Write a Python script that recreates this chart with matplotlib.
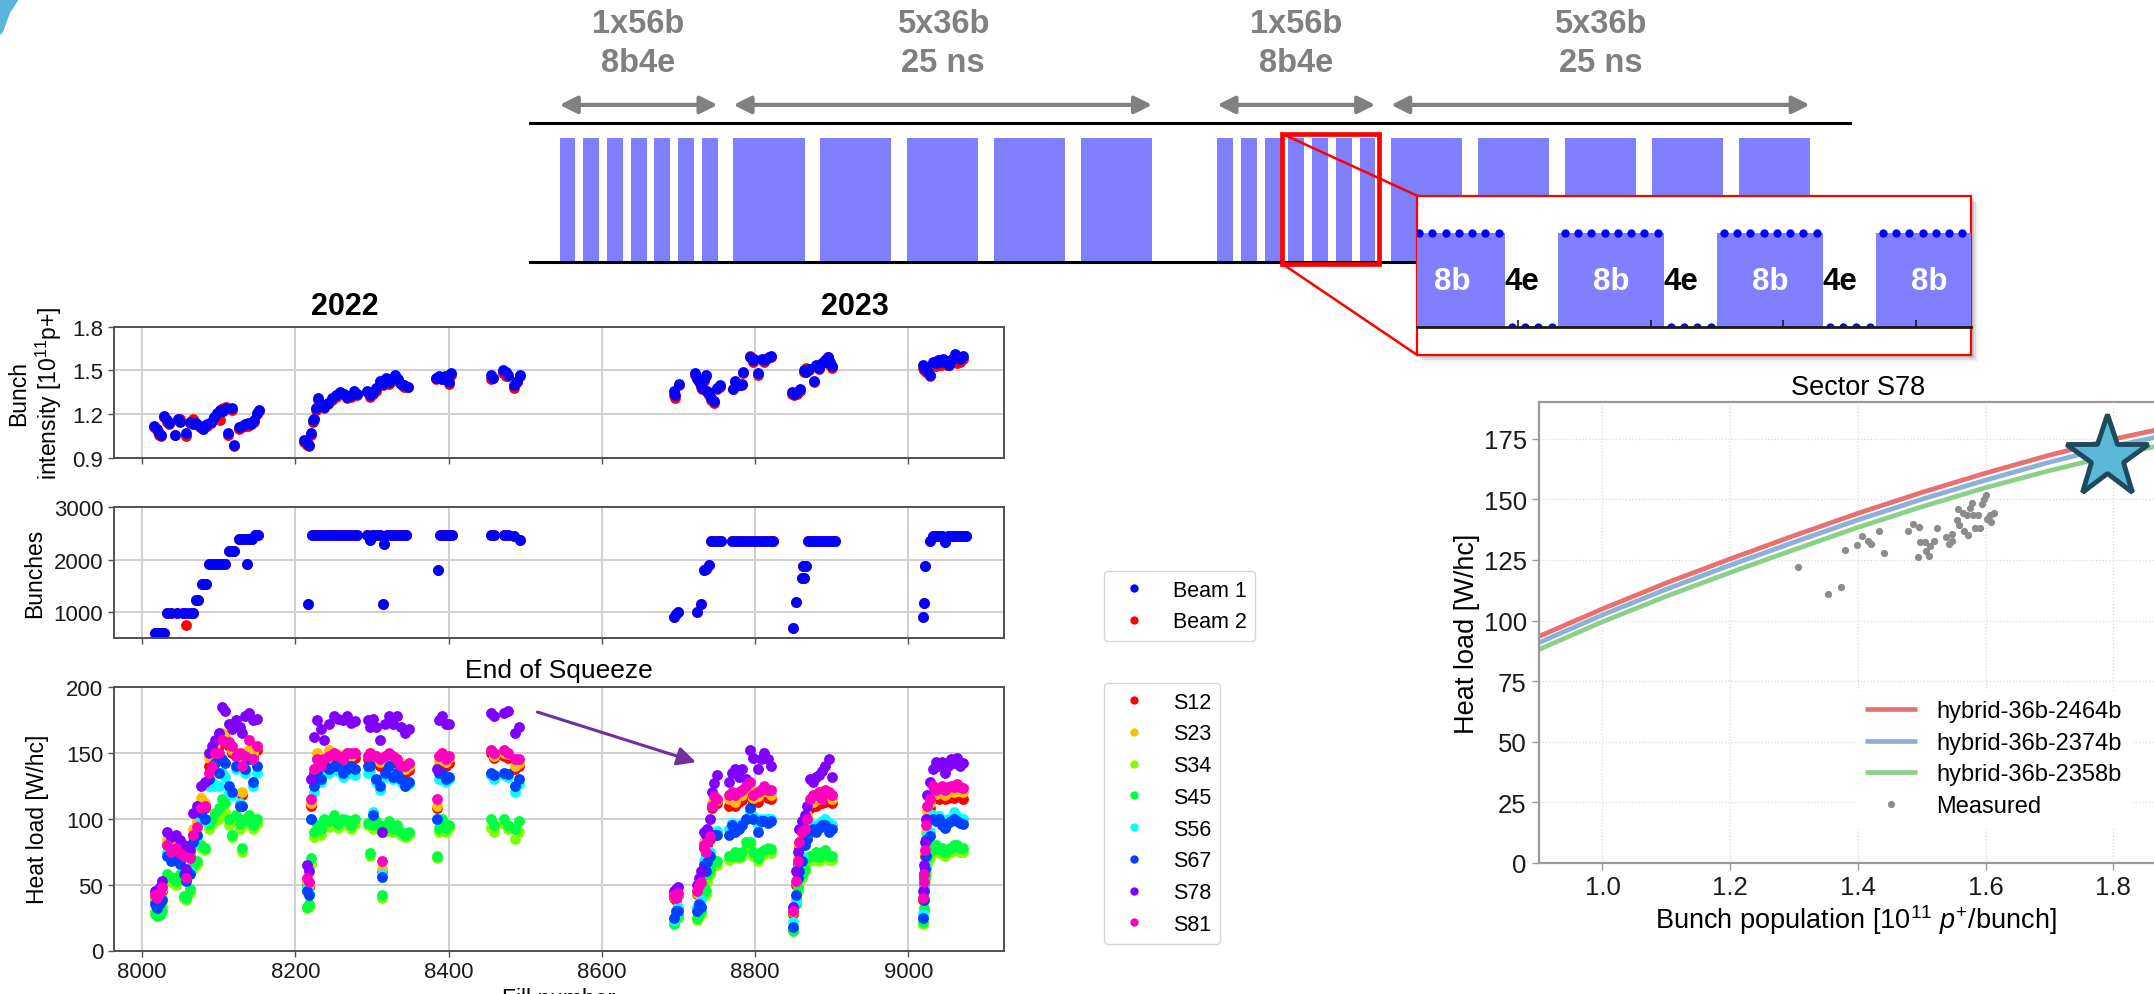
import matplotlib
matplotlib.use("Agg")
import matplotlib.pyplot as plt
from matplotlib.patches import Rectangle, Polygon, ConnectionPatch
from matplotlib.lines import Line2D

plt.rcParams['font.family'] = ['Liberation Sans', 'DejaVu Sans']
plt.rcParams['mathtext.fontset'] = 'custom'
plt.rcParams['mathtext.rm'] = 'Liberation Sans'
plt.rcParams['mathtext.it'] = 'Liberation Sans:italic'
plt.rcParams['mathtext.bf'] = 'Liberation Sans:bold'

# ---------------------------------------------------------------- filling scheme
# train start slot and length (25 ns slots), two 8b4e + 5x36b groups
train_start = [15, 27, 39, 51, 63, 75, 87, 103, 147, 191, 235, 279,
               348, 360, 372, 384, 396, 408, 420, 436, 480, 524, 568, 612]
train_len = [8, 8, 8, 8, 8, 8, 8, 36, 36, 36, 36, 36,
             8, 8, 8, 8, 8, 8, 8, 36, 36, 36, 36, 36]
span_labels = ['1x56b\n8b4e', '5x36b\n25 ns', '1x56b\n8b4e', '5x36b\n25 ns']
zoom_slots = (381, 430)

# magnified detail: 8b blocks, filled and empty slots
detail_blocks = [0, 12, 24, 36]
detail_full = [0, 1, 2, 3, 4, 5, 6, 7, 12, 13, 14, 15, 16, 17, 18, 19,
               24, 25, 26, 27, 28, 29, 30, 31, 36, 37, 38, 39, 40, 41, 42, 43]
detail_empty = [8, 9, 10, 11, 20, 21, 22, 23, 32, 33, 34, 35]
detail_ticks = [9, 19, 29, 39]

# ---------------------------------------------------------------- bunch intensity
fills_int = [8016, 8019, 8022, 8025, 8029, 8032, 8035, 8043, 8047, 8050,
             8057, 8062, 8066, 8070, 8075, 8080, 8085, 8090, 8094, 8098,
             8102, 8106, 8110, 8112, 8117, 8120, 8126, 8130, 8134, 8138,
             8142, 8146, 8150, 8153,
             8212, 8215, 8218, 8221, 8223, 8225, 8227, 8229, 8232, 8238,
             8243, 8248, 8253, 8258, 8263, 8268, 8273, 8277, 8281, 8294,
             8298, 8302, 8306, 8310, 8314, 8318, 8322, 8326, 8330, 8334,
             8338, 8342, 8347,
             8384, 8388, 8392, 8396, 8400, 8403,
             8455, 8458, 8471, 8475, 8478, 8486, 8490, 8493,
             8694, 8696, 8701, 8722, 8724, 8727, 8729, 8731, 8734, 8736,
             8738, 8740, 8743, 8747, 8750, 8754, 8771, 8774, 8781, 8783,
             8785, 8794, 8797, 8799, 8804, 8809, 8812, 8815, 8818, 8821,
             8848, 8851, 8855, 8859, 8864, 8867, 8871, 8877, 8879, 8884,
             8888, 8891, 8893, 8895, 8898, 8900,
             9019, 9021, 9023, 9026, 9028, 9032, 9036, 9039, 9043, 9046,
             9050, 9053, 9057, 9061, 9064, 9067, 9071]
int_b1 = [1.12, 1.10, 1.07, 1.06, 1.19, 1.16, 1.14, 1.06, 1.17, 1.15,
          1.07, 1.15, 1.13, 1.14, 1.12, 1.10, 1.13, 1.15, 1.18, 1.21,
          1.23, 1.22, 1.24, 1.07, 1.24, 0.99, 1.11, 1.12, 1.13, 1.14,
          1.13, 1.16, 1.21, 1.23,
          1.02, 1.00, 0.99, 1.07, 1.16, 1.17, 1.24, 1.31, 1.27, 1.25,
          1.28, 1.31, 1.33, 1.35, 1.34, 1.32, 1.33, 1.36, 1.34, 1.36,
          1.33, 1.35, 1.38, 1.43, 1.41, 1.45, 1.42, 1.44, 1.47, 1.44,
          1.41, 1.40, 1.39,
          1.45, 1.46, 1.44, 1.46, 1.42, 1.48,
          1.47, 1.45, 1.50, 1.49, 1.47, 1.40, 1.43, 1.47,
          1.36, 1.33, 1.41, 1.48, 1.45, 1.43, 1.40, 1.38, 1.44, 1.47,
          1.36, 1.34, 1.31, 1.29, 1.38, 1.40, 1.37, 1.43, 1.40, 1.41,
          1.49, 1.59, 1.57, 1.58, 1.48, 1.58, 1.57, 1.58, 1.59, 1.60,
          1.35, 1.34, 1.35, 1.37, 1.50, 1.49, 1.51, 1.43, 1.54, 1.52,
          1.55, 1.57, 1.56, 1.59, 1.56, 1.53,
          1.54, 1.52, 1.51, 1.49, 1.47, 1.56, 1.55, 1.57, 1.56, 1.58,
          1.55, 1.54, 1.58, 1.61, 1.59, 1.58, 1.60]
int_b2 = [1.11, 1.09, 1.06, 1.05, 1.18, 1.15, 1.13, 1.06, 1.16, 1.17,
          1.05, 1.14, 1.17, 1.13, 1.11, 1.10, 1.12, 1.14, 1.17, 1.20,
          1.16, 1.24, 1.25, 1.06, 1.23, 0.98, 1.10, 1.11, 1.12, 1.12,
          1.13, 1.15, 1.20, 1.22,
          1.01, 0.99, 0.98, 1.06, 1.15, 1.17, 1.23, 1.30, 1.26, 1.24,
          1.27, 1.30, 1.32, 1.34, 1.33, 1.31, 1.32, 1.34, 1.33, 1.35,
          1.32, 1.34, 1.36, 1.42, 1.40, 1.44, 1.41, 1.43, 1.46, 1.43,
          1.41, 1.39, 1.39,
          1.44, 1.45, 1.44, 1.45, 1.41, 1.47,
          1.44, 1.45, 1.48, 1.46, 1.46, 1.38, 1.42, 1.46,
          1.33, 1.31, 1.40, 1.47, 1.44, 1.42, 1.39, 1.37, 1.43, 1.46,
          1.35, 1.33, 1.30, 1.28, 1.37, 1.39, 1.37, 1.42, 1.40, 1.40,
          1.48, 1.60, 1.56, 1.57, 1.47, 1.57, 1.56, 1.58, 1.59, 1.59,
          1.34, 1.33, 1.34, 1.36, 1.49, 1.52, 1.50, 1.42, 1.53, 1.51,
          1.55, 1.56, 1.58, 1.59, 1.54, 1.52,
          1.52, 1.50, 1.49, 1.48, 1.46, 1.55, 1.53, 1.56, 1.54, 1.57,
          1.54, 1.54, 1.57, 1.60, 1.55, 1.56, 1.58]

# ---------------------------------------------------------------- number of bunches
fills_nb = [8017, 8020, 8023, 8026, 8029, 8033, 8038, 8045, 8053, 8058,
            8063, 8066, 8070, 8073, 8078, 8081, 8083, 8088, 8092, 8096,
            8100, 8104, 8108, 8114, 8117, 8120, 8127, 8131, 8135, 8137,
            8139, 8143, 8148, 8151,
            8217, 8222, 8226, 8231, 8236, 8241, 8246, 8251, 8256, 8261,
            8266, 8271, 8276, 8281, 8294, 8297, 8300, 8305, 8310, 8315,
            8316, 8320, 8325, 8330, 8335, 8340, 8345,
            8386, 8389, 8393, 8397, 8401, 8405,
            8455, 8459, 8472, 8477, 8486, 8493,
            8694, 8697, 8700, 8724, 8729, 8733, 8736, 8740, 8743, 8747,
            8752, 8756, 8770, 8775, 8780, 8785, 8790, 8795, 8800, 8805,
            8810, 8815, 8820, 8823,
            8850, 8854, 8861, 8863, 8864, 8867, 8869, 8873, 8877, 8881,
            8885, 8889, 8893, 8897, 8901, 8904,
            9019, 9021, 9022, 9028, 9032, 9036, 9040, 9044, 9048, 9052,
            9056, 9060, 9064, 9068, 9072, 9075]
nb_b1 = [600, 600, 600, 600, 600, 990, 990, 990, 990, 990,
         990, 990, 1222, 1222, 1540, 1540, 1540, 1920, 1920, 1920,
         1920, 1920, 1920, 2155, 2155, 2155, 2396, 2396, 2396, 1920,
         2396, 2396, 2460, 2460,
         1160, 2460, 2460, 2460, 2460, 2460, 2460, 2460, 2460, 2460,
         2460, 2460, 2460, 2460, 2460, 2370, 2460, 2460, 2460, 1160,
         2290, 2460, 2460, 2460, 2460, 2460, 2460,
         1806, 2460, 2460, 2460, 2460, 2460,
         2460, 2460, 2460, 2460, 2445, 2380,
         905, 970, 1000, 1000, 1157, 1807, 1810, 1895, 2356, 2356,
         2356, 2356, 2356, 2356, 2356, 2356, 2356, 2356, 2356, 2356,
         2356, 2356, 2356, 2356,
         697, 1189, 1643, 1870, 1643, 1870, 2344, 2344, 2344, 2344,
         2344, 2344, 2344, 2344, 2344, 2344,
         905, 1170, 1870, 2344, 2450, 2450, 2450, 2450, 2325, 2450,
         2450, 2450, 2450, 2450, 2450, 2450]
# beam 2 filled identically except for one fill
nb_b2_differs = {8058: 746}

# ---------------------------------------------------------------- heat loads per sector
fills_hl = [8017, 8020, 8023, 8026, 8033, 8038, 8044, 8050, 8055, 8058,
            8062, 8067, 8072, 8077, 8082, 8087, 8091, 8095, 8100, 8105,
            8108, 8113, 8118, 8123, 8128, 8131, 8135, 8140, 8145, 8150,
            8215, 8218, 8221, 8224, 8228, 8233, 8238, 8244, 8250, 8256,
            8262, 8268, 8273, 8278, 8295, 8298, 8301, 8306, 8310, 8313,
            8317, 8322, 8327, 8333, 8338, 8343, 8348,
            8385, 8388, 8392, 8397, 8401,
            8456, 8459, 8472, 8477, 8487, 8492,
            8694, 8697, 8700, 8724, 8727, 8729, 8733, 8736, 8738, 8741,
            8744, 8747, 8750, 8766, 8770, 8774, 8779, 8783, 8788, 8793,
            8798, 8804, 8808, 8812, 8817, 8821,
            8850, 8853, 8856, 8858, 8862, 8865, 8868, 8872, 8876, 8880,
            8884, 8888, 8892, 8896, 8900,
            9019, 9020, 9021, 9022, 9023, 9025, 9028, 9032, 9036, 9040,
            9044, 9048, 9052, 9056, 9060, 9064, 9068, 9072]
hl_S12 = [38, 36, 40, 45, 80, 76, 78, 75, 73, 56, 72, 88, 95, 112, 108, 140, 148, 150, 155, 160,
          158, 155, 150, 148, 140, 118, 148, 150, 148, 152,
          50, 48, 110, 135, 145, 138, 142, 148, 148, 146, 145, 147, 145, 146, 145, 148, 145, 145, 140, 60,
          142, 146, 144, 142, 138, 135, 137,
          108, 140, 146, 140, 142,
          150, 146, 148, 146, 138, 140,
          40, 38, 42, 43, 47, 48, 78, 73, 80, 85, 108, 112, 112, 110, 112, 110, 113, 114, 118, 120,
          113, 113, 118, 118, 116, 115,
          28, 50, 66, 78, 85, 90, 100, 108, 110, 110, 112, 112, 113, 115, 112,
          38, 50, 55, 72, 85, 100, 108, 115, 116, 115, 118, 115, 116, 118, 116, 118, 117, 115]
hl_S23 = [40, 38, 42, 47, 84, 80, 82, 78, 76, 58, 74, 92, 98, 116, 112, 146, 150, 154, 160, 165,
          162, 158, 152, 150, 142, 120, 150, 152, 150, 155,
          52, 50, 112, 138, 150, 142, 146, 152, 150, 149, 148, 150, 148, 150, 148, 150, 148, 148, 143, 62,
          146, 148, 146, 145, 142, 138, 140,
          110, 144, 150, 143, 146,
          152, 148, 150, 149, 140, 142,
          41, 40, 43, 44, 48, 50, 82, 75, 85, 88, 112, 115, 114, 115, 117, 113, 118, 118, 122, 125,
          116, 117, 120, 122, 120, 118,
          29, 52, 70, 80, 88, 95, 103, 112, 113, 115, 115, 116, 118, 118, 115,
          40, 52, 58, 74, 90, 106, 112, 120, 119, 120, 121, 118, 120, 121, 120, 121, 121, 120]
hl_S34 = [30, 28, 30, 34, 55, 52, 50, 55, 40, 38, 44, 62, 66, 78, 76, 92, 96, 98, 100, 108,
          105, 95, 86, 98, 92, 75, 96, 100, 92, 96,
          32, 33, 66, 86, 92, 88, 96, 94, 100, 93, 96, 95, 92, 96, 95, 72, 92, 95, 92, 40,
          90, 95, 90, 93, 88, 86, 88,
          70, 90, 96, 90, 93,
          93, 90, 96, 92, 85, 90,
          22, 24, 25, 23, 26, 28, 45, 42, 52, 58, 64, 65, 65, 69, 70, 72, 70, 72, 78, 79,
          72, 68, 72, 73, 75, 74,
          16, 42, 45, 52, 55, 60, 67, 69, 69, 72, 68, 72, 73, 69, 69,
          20, 30, 38, 53, 58, 66, 70, 75, 77, 74, 75, 72, 74, 75, 77, 77, 75, 75]
hl_S45 = [28, 26, 27, 30, 58, 56, 53, 58, 41, 40, 47, 65, 68, 80, 78, 96, 100, 104, 108, 115,
          112, 100, 88, 103, 96, 78, 100, 103, 95, 100,
          33, 35, 70, 90, 95, 92, 100, 98, 103, 96, 100, 99, 95, 100, 97, 74, 95, 98, 95, 42,
          93, 98, 92, 95, 90, 88, 90,
          72, 93, 100, 93, 95,
          100, 95, 100, 95, 92, 98,
          20, 25, 27, 25, 28, 30, 48, 45, 58, 62, 68, 68, 68, 72, 72, 75, 72, 75, 82, 82,
          75, 70, 75, 76, 78, 77,
          15, 35, 48, 55, 58, 62, 70, 72, 72, 75, 71, 75, 76, 72, 72,
          22, 32, 40, 56, 62, 70, 75, 78, 80, 77, 78, 75, 77, 78, 80, 80, 78, 78]
hl_S56 = [37, 33, 38, 40, 75, 70, 68, 67, 62, 54, 60, 80, 86, 100, 98, 125, 128, 125, 125, 135,
          132, 120, 118, 138, 112, 110, 135, 145, 125, 135,
          48, 44, 100, 120, 130, 128, 135, 135, 138, 136, 132, 134, 135, 133, 135, 136, 105, 128, 122, 58,
          132, 136, 130, 132, 128, 125, 126,
          100, 130, 133, 128, 130,
          133, 130, 133, 132, 120, 126,
          23, 28, 33, 33, 36, 38, 68, 62, 70, 75, 90, 90, 91, 92, 97, 93, 95, 97, 100, 105,
          102, 95, 100, 100, 100, 100,
          22, 38, 58, 65, 72, 82, 87, 94, 95, 93, 96, 98, 100, 97, 95,
          28, 40, 48, 66, 75, 88, 90, 103, 102, 102, 98, 97, 100, 100, 105, 102, 100, 100]
hl_S67 = [35, 32, 36, 38, 72, 68, 70, 66, 58, 53, 58, 82, 88, 104, 100, 130, 140, 142, 135, 145,
          142, 125, 120, 140, 110, 110, 138, 145, 128, 140,
          45, 42, 100, 125, 135, 130, 140, 138, 140, 140, 135, 138, 140, 138, 140, 140, 103, 130, 125, 56,
          135, 140, 132, 135, 130, 125, 128,
          100, 135, 135, 130, 132,
          135, 133, 135, 134, 125, 130,
          25, 30, 30, 30, 35, 33, 65, 60, 67, 72, 88, 88, 88, 88, 95, 90, 92, 95, 100, 108,
          100, 90, 98, 98, 97, 98,
          18, 42, 55, 60, 68, 80, 85, 90, 92, 90, 93, 95, 95, 90, 92,
          25, 38, 45, 62, 72, 85, 87, 100, 98, 100, 95, 93, 97, 98, 100, 98, 97, 96]
hl_S78 = [45, 44, 48, 53, 90, 86, 88, 84, 80, 62, 76, 104, 110, 125, 128, 150, 155, 160, 165, 185,
          182, 172, 168, 175, 170, 165, 178, 180, 175, 176,
          65, 60, 130, 162, 175, 168, 160, 172, 178, 176, 175, 178, 173, 174, 175, 170, 176, 170, 160, 90,
          172, 178, 172, 178, 170, 165, 168,
          138, 175, 178, 172, 172,
          180, 178, 180, 182, 165, 170,
          45, 47, 48, 50, 55, 60, 90, 88, 92, 100, 120, 127, 133, 128, 135, 138, 132, 138, 130, 152,
          146, 138, 145, 150, 145, 140,
          33, 60, 75, 92, 98, 103, 110, 130, 128, 132, 133, 136, 140, 145, 132,
          45, 58, 65, 82, 100, 118, 128, 138, 143, 140, 143, 135, 140, 145, 142, 146, 140, 142]
hl_S81 = [42, 40, 44, 48, 80, 75, 78, 74, 72, 55, 70, 88, 94, 108, 110, 135, 140, 150, 150, 160,
          158, 158, 155, 148, 150, 140, 148, 160, 145, 155,
          55, 52, 115, 138, 145, 140, 145, 148, 150, 148, 145, 150, 150, 150, 148, 150, 148, 148, 145, 68,
          148, 150, 148, 145, 140, 140, 142,
          115, 148, 150, 145, 148,
          152, 150, 152, 150, 145, 145,
          42, 40, 44, 45, 50, 52, 80, 75, 82, 87, 110, 117, 115, 118, 120, 118, 120, 122, 125, 128,
          118, 120, 122, 125, 122, 122,
          30, 53, 68, 82, 90, 92, 100, 115, 118, 118, 120, 115, 122, 120, 118,
          40, 52, 58, 76, 95, 110, 115, 125, 122, 123, 125, 122, 124, 125, 124, 126, 124, 123]
sectors = ['S12', 'S23', 'S34', 'S45', 'S56', 'S67', 'S78', 'S81']
sector_hl = [hl_S12, hl_S23, hl_S34, hl_S45, hl_S56, hl_S67, hl_S78, hl_S81]
sector_colors = ['#FF0000', '#FFBF00', '#80FF00', '#00FF40',
                 '#00FFFF', '#0040FF', '#8000FF', '#FF00BF']

# ---------------------------------------------------------------- S78 model vs measurement
pop_x = [0.9, 1.0, 1.1, 1.2, 1.3, 1.4, 1.5, 1.6, 1.7, 1.8, 1.9]
model_2464 = [93.4, 104.8, 115.5, 125.4, 135.0, 144.2, 152.8, 160.8, 168.2, 174.8, 180.4]
model_2374 = [90.8, 102.3, 112.9, 122.8, 132.3, 141.5, 150.0, 157.9, 165.3, 171.9, 177.4]
model_2358 = [88.0, 99.5, 110.0, 119.8, 129.2, 138.4, 146.9, 154.8, 161.8, 168.2, 173.6]
model_names = ['hybrid-36b-2464b', 'hybrid-36b-2374b', 'hybrid-36b-2358b']
model_colors = ['#e8706f', '#8db0d8', '#8ccf88']
meas_pop = [1.307, 1.354, 1.374, 1.380, 1.398, 1.407, 1.416, 1.420, 1.433, 1.441,
            1.478, 1.487, 1.496, 1.494, 1.498, 1.505, 1.507, 1.511, 1.513, 1.520,
            1.524, 1.538, 1.542, 1.548, 1.548, 1.556, 1.557, 1.559, 1.564, 1.567,
            1.571, 1.573, 1.576, 1.578, 1.581, 1.584, 1.588, 1.591, 1.594, 1.597,
            1.600, 1.603, 1.607, 1.608, 1.614]
meas_hl = [122.0, 111.0, 113.9, 129.2, 131.0, 134.9, 132.8, 131.6, 136.9, 128.0,
           136.9, 139.9, 138.4, 126.4, 132.5, 132.3, 128.7, 126.8, 130.6, 132.9,
           138.0, 134.3, 131.6, 135.7, 132.9, 141.4, 146.2, 139.4, 144.5, 136.9,
           143.6, 135.3, 146.5, 148.3, 143.4, 138.0, 143.4, 138.0, 147.9, 150.3,
           151.7, 141.8, 143.4, 140.8, 144.5]
target_pop = [1.79]
target_hl = [167.5]

# ---------------------------------------------------------------- figure
W, H = 2154, 995
fig = plt.figure(figsize=(W / 100, H / 100), dpi=100)


def px_box(x0, y0, x1, y1):
    """Axes rectangle from pixel edges measured from the top-left corner."""
    return [x0 / W, 1 - y1 / H, (x1 - x0) / W, (y1 - y0) / H]


# corner accent
fig.add_artist(Polygon([(0 / W, 1), (19 / W, 1), (10 / W, 1 - 14 / H),
                        (3 / W, 1 - 33 / H), (0, 1 - 36 / H)],
                       closed=True, transform=fig.transFigure,
                       facecolor='#5ab4dc', edgecolor='none'))

# ---------------------------------------------------------------- left time-series panels
ax1 = fig.add_axes(px_box(113.7, 327.7, 1004, 459))
ax2 = fig.add_axes(px_box(113.7, 508, 1004, 639.3), sharex=ax1)
ax3 = fig.add_axes(px_box(113.7, 688, 1004, 951.5), sharex=ax1)

for ax in (ax1, ax2, ax3):
    ax.grid(True, color='#cfcfcf', lw=1.4)
    ax.set_axisbelow(True)
    for s in ax.spines.values():
        s.set_color('#505050')
        s.set_linewidth(1.4)
    ax.tick_params(direction='out', length=4, width=1.0, color='#505050',
                   labelsize=16, labelcolor='#1a1a1a')

ms = 7.8
ax1.plot(fills_int, int_b2, 'o', color='#FF0000', ms=ms, mew=0)
ax1.plot(fills_int, int_b1, 'o', color='#0000FF', ms=ms, mew=0)
ax1.set_ylim(0.9, 1.8)
ax1.set_yticks([0.9, 1.2, 1.5, 1.8])
ax1.set_ylabel('Bunch\nintensity [$10^{11}$p+]', fontsize=16.5, linespacing=1.15)
ax1.yaxis.set_label_coords(-0.056, 0.5)
ax1.tick_params(labelbottom=False)
ax1.text(8264, 1.16, '2022', transform=ax1.get_xaxis_transform(),
         ha='center', va='center', fontsize=22, fontweight='bold')
ax1.text(8930, 1.16, '2023', transform=ax1.get_xaxis_transform(),
         ha='center', va='center', fontsize=22, fontweight='bold')

nb_b2 = [nb_b2_differs.get(f, n) for f, n in zip(fills_nb, nb_b1)]
ax2.plot(fills_nb, nb_b2, 'o', color='#FF0000', ms=ms, mew=0)
ax2.plot(fills_nb, nb_b1, 'o', color='#0000FF', ms=ms, mew=0)
ax2.set_ylim(500, 3000)
ax2.set_yticks([1000, 2000, 3000])
ax2.set_ylabel('Bunches', fontsize=16.5)
ax2.yaxis.set_label_coords(-0.076, 0.5)
ax2.tick_params(labelbottom=False)

for vals, col in zip(sector_hl, sector_colors):
    ax3.plot(fills_hl, vals, 'o', color=col, ms=ms, mew=0)
ax3.set_ylim(0, 200)
ax3.set_yticks([0, 50, 100, 150, 200])
ax3.set_xlim(7963, 9125)
ax3.set_xticks([8000, 8200, 8400, 8600, 8800, 9000])
ax3.set_ylabel('Heat load [W/hc]', fontsize=16.5)
ax3.yaxis.set_label_coords(-0.073, 0.5)
ax3.set_xlabel('Fill number', fontsize=16.5)
ax3.set_title('End of Squeeze', fontsize=19, pad=7)
ax3.annotate('', xy=(8723, 143), xytext=(8516, 181),
             arrowprops=dict(arrowstyle='-|>', color='#7030a0', lw=2.2,
                             mutation_scale=28, shrinkA=0, shrinkB=0))

# legends between the panels
beam_handles = [Line2D([], [], marker='o', ls='none', color='#0000FF', ms=6, mew=0, label='Beam 1'),
                Line2D([], [], marker='o', ls='none', color='#FF0000', ms=6, mew=0, label='Beam 2')]
leg_kw = dict(loc='upper left', fontsize=15.5, frameon=True, fancybox=True,
              edgecolor='#cccccc', borderaxespad=0, labelspacing=0.5)
fig.legend(handles=beam_handles, bbox_to_anchor=(1104 / W, 1 - 572 / H), **leg_kw)
sector_handles = [Line2D([], [], marker='o', ls='none', color=c, ms=6, mew=0, label=n)
                  for n, c in zip(sectors, sector_colors)]
fig.legend(handles=sector_handles, bbox_to_anchor=(1104 / W, 1 - 684 / H), **leg_kw)

# ---------------------------------------------------------------- filling-scheme sketch
slot_px = 1.975
ax_s = fig.add_axes(px_box(530, 124, 1850, 263.3))
ax_s.set_xlim(0, 1320 / slot_px)
ax_s.set_ylim(0, 1)
ax_s.set_facecolor('none')
ax_s.bar(train_start, 0.89, width=train_len, align='edge', color='#8080FF', lw=0)
for side in ('left', 'right'):
    ax_s.spines[side].set_visible(False)
for side in ('top', 'bottom'):
    ax_s.spines[side].set_linewidth(2.2)
    ax_s.spines[side].set_color('black')
ax_s.set_xticks([])
ax_s.set_yticks([])

span_edges = [(train_start[0], train_start[6] + train_len[6]),
              (train_start[7], train_start[11] + train_len[11]),
              (train_start[12], train_start[18] + train_len[18]),
              (train_start[19], train_start[23] + train_len[23])]
for (a, b), lab in zip(span_edges, span_labels):
    ax_s.annotate('', xy=(b, 1.13), xytext=(a, 1.13), annotation_clip=False,
                  arrowprops=dict(arrowstyle='<|-|>', color='#808080', lw=3.0,
                                  mutation_scale=26, shrinkA=0, shrinkB=0))
    ax_s.text((a + b) / 2, 1.575, lab, ha='center', va='center', fontsize=23.5,
              fontweight='bold', color='#808080', linespacing=1.3, clip_on=False)

ax_s.add_patch(Rectangle((zoom_slots[0], -0.012), zoom_slots[1] - zoom_slots[0], 0.933,
                         fill=False, edgecolor='#FF0000', lw=3.4, clip_on=False, zorder=5))

# ---------------------------------------------------------------- magnified detail
box = px_box(1417.2, 196.7, 1971.4, 356)
for off, alpha in ((7, 0.08), (5, 0.12), (3, 0.18)):
    fig.add_artist(Rectangle((box[0] + off / W, box[1] - off / H), box[2], box[3],
                             transform=fig.transFigure, facecolor='#555555',
                             edgecolor='none', alpha=alpha, zorder=1))
ax_box = fig.add_axes(box, zorder=2)
ax_box.set_xticks([])
ax_box.set_yticks([])
for s in ax_box.spines.values():
    s.set_color('#FF0000')
    s.set_linewidth(1.6)

ax_in = fig.add_axes(px_box(1417.2, 196.7, 1971.4, 328), zorder=3)
ax_in.set_facecolor('none')
ax_in.set_xlim(1.36, 43.19)
ax_in.set_ylim(0, 1.401)
ax_in.bar(detail_blocks, 1.0, width=8, align='edge', color='#8080FF', lw=0)
ax_in.plot([s + 0.5 for s in detail_full], [1.0] * len(detail_full), 'o',
           color='#0000FF', ms=6, mew=0)
ax_in.plot([s + 0.5 for s in detail_empty], [0.0] * len(detail_empty), 'o',
           color='#0000FF', ms=6, mew=0)
for side in ('left', 'right', 'top'):
    ax_in.spines[side].set_visible(False)
ax_in.spines['bottom'].set_linewidth(2.0)
ax_in.spines['bottom'].set_color('#1a1a1a')
ax_in.set_xticks(detail_ticks)
ax_in.set_xticklabels([])
ax_in.set_yticks([])
ax_in.tick_params(axis='x', direction='in', length=5, width=1.2, color='#1a1a1a')
for b in detail_blocks:
    ax_in.text(b + 4, 0.494, '8b', ha='center', va='center', fontsize=22.5,
               fontweight='bold', color='white', clip_on=True)
for b in detail_blocks[:-1]:
    ax_in.text(b + 9.3, 0.494, '4e', ha='center', va='center', fontsize=22.5,
               fontweight='bold', color='black')

for ya, yb in ((0.921, 1.0), (-0.012, 0.0)):
    con = ConnectionPatch(xyA=(zoom_slots[0], ya), coordsA=ax_s.transData,
                          xyB=(0, yb), coordsB=ax_box.transAxes,
                          color='#FF0000', lw=1.8, zorder=6)
    fig.add_artist(con)

# ---------------------------------------------------------------- S78 heat load vs intensity
ax_r = fig.add_axes(px_box(1538.6, 403.3, 1538.6 + 638.5, 864))
for xs_name, ys, col in zip(model_names, (model_2464, model_2374, model_2358), model_colors):
    ax_r.plot(pop_x, ys, color=col, lw=3.4, label=xs_name, solid_capstyle='butt')
ax_r.plot(meas_pop, meas_hl, 'o', color='#8c8c8c', ms=5.2, mew=0, label='Measured')
ax_r.plot(target_pop, target_hl, marker='*', ms=62, mfc='#5bb8d8', mec='#1d4a5c',
          mew=3.5, ls='none')
ax_r.set_xlim(0.9, 1.9)
ax_r.set_ylim(0, 190)
ax_r.set_xticks([1.0, 1.2, 1.4, 1.6, 1.8])
ax_r.set_yticks([0, 25, 50, 75, 100, 125, 150, 175])
ax_r.grid(True, color='#d9d9d9', lw=0.9, ls=':')
ax_r.set_axisbelow(True)
for s in ax_r.spines.values():
    s.set_color('#9a9a9a')
    s.set_linewidth(1.6)
ax_r.tick_params(direction='out', length=5, width=1.0, color='#9a9a9a',
                 labelsize=18.5, labelcolor='#1a1a1a')
ax_r.set_title('Sector S78', fontsize=19.5, pad=6)
ax_r.set_ylabel('Heat load [W/hc]', fontsize=19.5)
ax_r.yaxis.set_label_coords(-0.092, 0.5)
ax_r.set_xlabel('Bunch population [$10^{11}$ $p^{+}$/bunch]', fontsize=19.5)
ax_r.xaxis.set_label_coords(0.497, -0.085)
fig.legend(*ax_r.get_legend_handles_labels(), loc='upper left',
           bbox_to_anchor=(1856 / W, 1 - 692 / H),
           fontsize=17, frameon=True, facecolor='white', edgecolor='white',
           framealpha=1, borderaxespad=0, labelspacing=0.4, handlelength=2.2,
           handletextpad=0.8, fancybox=False)

fig.savefig('out.png', dpi=100)
